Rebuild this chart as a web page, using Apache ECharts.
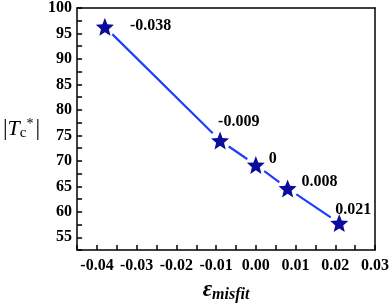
<!DOCTYPE html>
<html>
<head>
<meta charset="utf-8">
<script src="https://cdn.jsdelivr.net/npm/echarts@6/dist/echarts.min.js"></script>
<style>html,body{margin:0;padding:0;background:#fff}#c{width:392px;height:308px}</style>
</head>
<body>
<div id="c"></div>
<script>
// ---- data ----
const misfit = [-0.038, -0.009, 0, 0.008, 0.021];
const tc = [96.3, 74.0, 69.2, 64.6, 57.8];
const pointLabels = ['-0.038', '-0.009', '0', '0.008', '0.021'];
const xTickStep = 0.005;   // ticks every 0.005, labels every 0.01
const yTickStep = 2.5;     // ticks every 2.5, labels every 5

// ---- style / layout ----
const labelOffsets = [[25, -1], [-2, -19], [13, -6], [14, -6.5], [-4, -13]];
function starPath() {
  const pts = [];
  for (let k = 0; k < 10; k++) {
    const r = k % 2 === 0 ? 50 : 22;
    const a = (-90 + k * 36) * Math.PI / 180;
    pts.push((50 + r * Math.cos(a)).toFixed(2) + ',' + (50 + r * Math.sin(a)).toFixed(2));
  }
  return 'path://M' + pts.join('L') + 'Z';
}
const serif = '"Liberation Serif", "DejaVu Serif", serif';
const pairs = misfit.map((x, i) => [x, tc[i]]);
const XMIN = -0.045, XMAX = 0.03, YMIN = 52.5, YMAX = 100;
const black = () => ({ color: '#000', width: 1.5 });

const chart = echarts.init(document.getElementById('c'));
chart.setOption({
  animation: false,
  grid: { left: 67, right: 16, top: 7, bottom: 51 },
  xAxis: [{
    type: 'value', min: XMIN, max: XMAX, interval: xTickStep, position: 'bottom',
    axisLine: { show: true, onZero: false, lineStyle: black() },
    axisTick: { show: true, inside: true, length: 5, lineStyle: black() },
    axisLabel: {
      formatter: v => (Math.round(v * 1000) % 10 === 0 ? v.toFixed(2) : ''),
      showMinLabel: true, showMaxLabel: true,
      color: '#000', fontFamily: serif, fontWeight: 'bold', fontSize: 16, margin: 8
    },
    splitLine: { show: false },
    name: '{e|ε}{s|misfit}', nameLocation: 'middle', nameGap: 25,
    nameTextStyle: {
      rich: {
        e: { fontFamily: serif, fontStyle: 'italic', fontWeight: 'bold', fontSize: 23, color: '#000' },
        s: { fontFamily: serif, fontStyle: 'italic', fontWeight: 'bold', fontSize: 16, color: '#000', padding: [9, 0, 0, 0] }
      }
    }
  }, {
    type: 'value', min: XMIN, max: XMAX, position: 'top',
    axisLine: { show: true, onZero: false, lineStyle: black() },
    axisTick: { show: false }, axisLabel: { show: false }, splitLine: { show: false }
  }],
  yAxis: [{
    type: 'value', min: YMIN, max: YMAX, interval: yTickStep, position: 'left',
    axisLine: { show: true, onZero: false, lineStyle: black() },
    axisTick: { show: true, inside: true, length: 5, lineStyle: black() },
    axisLabel: {
      formatter: v => (Math.round(v * 10) % 50 === 0 ? String(v) : ''),
      showMinLabel: true, showMaxLabel: true,
      color: '#000', fontFamily: serif, fontWeight: 'bold', fontSize: 16, margin: 5
    },
    splitLine: { show: false },
    name: '{b||}{t|T}{sub|c}{sup|*}{b||}', nameLocation: 'middle', nameGap: 37, nameRotate: 0,
    nameTextStyle: {
      rich: {
        b: { fontFamily: serif, fontSize: 23, color: '#000' },
        t: { fontFamily: serif, fontStyle: 'italic', fontSize: 22, color: '#000' },
        sub: { fontFamily: serif, fontSize: 15, color: '#000', padding: [9, 0, 0, 0] },
        sup: { fontFamily: serif, fontSize: 14, color: '#000', padding: [0, 2, 10, 0] }
      }
    }
  }, {
    type: 'value', min: YMIN, max: YMAX, position: 'right',
    axisLine: { show: true, onZero: false, lineStyle: black() },
    axisTick: { show: false }, axisLabel: { show: false }, splitLine: { show: false }
  }],
  series: [{
    type: 'line', data: pairs, showSymbol: false, symbol: 'none',
    lineStyle: { color: '#1f3fff', width: 2.2 }, z: 2
  }, {
    type: 'scatter', data: pairs, symbol: 'circle', symbolSize: 21,
    itemStyle: { color: '#fff', opacity: 1 }, z: 3, silent: true
  }, {
    type: 'scatter', symbol: starPath(), symbolSize: 18, z: 4,
    itemStyle: { color: '#0b0b9c', opacity: 1 },
    data: pairs.map((p, i) => ({
      value: p,
      label: {
        show: true, formatter: pointLabels[i], position: 'inside', align: 'left', verticalAlign: 'middle',
        offset: labelOffsets[i], color: '#000', fontFamily: serif, fontWeight: 'bold', fontSize: 16
      }
    }))
  }]
});
</script>
</body>
</html>
